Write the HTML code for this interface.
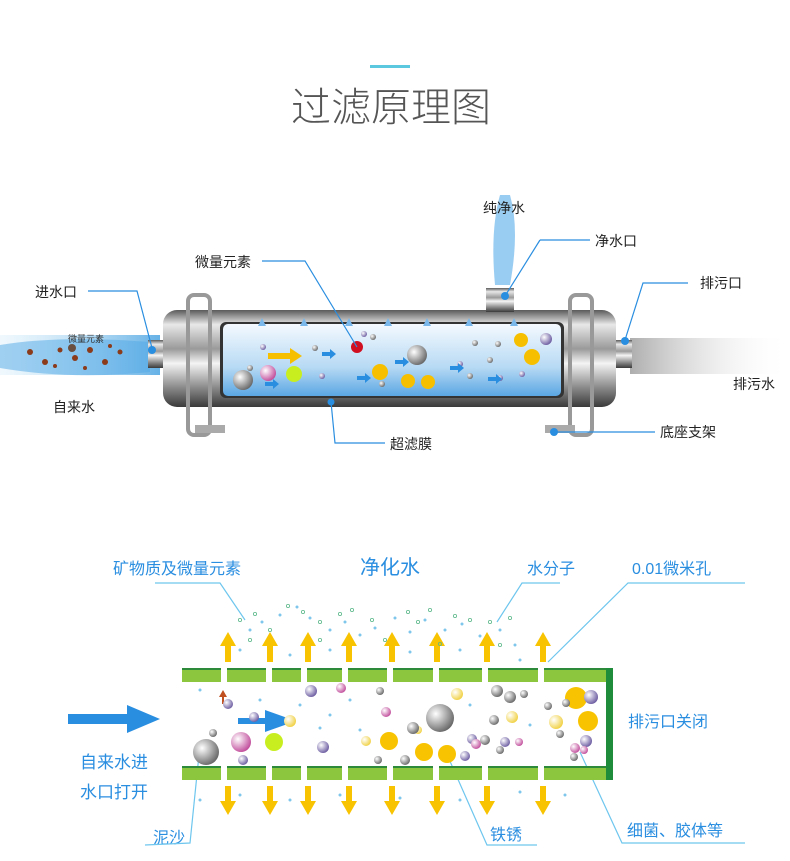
<!DOCTYPE html>
<html><head><meta charset="utf-8"><style>
html,body{margin:0;padding:0;background:#fff}
svg{display:block}
text{font-family:"Liberation Sans","Noto Sans CJK SC",sans-serif}
</style></head><body>
<svg width="790" height="861" viewBox="0 0 790 861" xmlns="http://www.w3.org/2000/svg">
<defs>
<linearGradient id="steel" x1="0" y1="0" x2="0" y2="1">
<stop offset="0" stop-color="#5a5a5a"/><stop offset="0.15" stop-color="#e8e8e8"/><stop offset="0.4" stop-color="#9a9a9a"/><stop offset="0.55" stop-color="#f4f4f4"/><stop offset="0.8" stop-color="#8a8a8a"/><stop offset="1" stop-color="#3a3a3a"/>
</linearGradient>
<linearGradient id="inner" x1="0" y1="0" x2="0" y2="1">
<stop offset="0" stop-color="#f4f9fe"/><stop offset="0.6" stop-color="#b7daf4"/><stop offset="1" stop-color="#5aa6e3"/>
</linearGradient>
<linearGradient id="water" x1="0" y1="0" x2="1" y2="0">
<stop offset="0" stop-color="#bfe3f7" stop-opacity="0.3"/><stop offset="1" stop-color="#3f9ee0"/>
</linearGradient>
<linearGradient id="grey" x1="0" y1="0" x2="1" y2="0">
<stop offset="0" stop-color="#777"/><stop offset="1" stop-color="#fff" stop-opacity="0"/>
</linearGradient>
<radialGradient id="ball" cx="0.35" cy="0.35" r="0.7"><stop offset="0" stop-color="#fff"/><stop offset="1" stop-color="#666"/></radialGradient>
<radialGradient id="pball" cx="0.35" cy="0.35" r="0.7"><stop offset="0" stop-color="#fff"/><stop offset="1" stop-color="#6a5aa0"/></radialGradient>
<radialGradient id="mball" cx="0.35" cy="0.35" r="0.7"><stop offset="0" stop-color="#fff"/><stop offset="1" stop-color="#c04a9a"/></radialGradient>
<radialGradient id="yball" cx="0.35" cy="0.35" r="0.7"><stop offset="0" stop-color="#fff"/><stop offset="1" stop-color="#f0d040"/></radialGradient>
</defs>

<!-- title -->
<rect x="370" y="65" width="40" height="3" fill="#5cc8e0"/>
<text x="391" y="121" font-size="40" fill="#555" text-anchor="middle" font-weight="300">过滤原理图</text>

<!-- top diagram -->
<rect x="0" y="335" width="160" height="40" fill="url(#water)" opacity="0.8"/>
<path d="M0 345 Q60 335 150 342 L150 372 Q70 380 0 368Z" fill="#4fa8e6" opacity="0.5"/>
<g fill="#8b3a1a"><circle cx="30" cy="352" r="3"/><circle cx="45" cy="362" r="3"/><circle cx="60" cy="350" r="2.5"/><circle cx="75" cy="358" r="3"/><circle cx="90" cy="350" r="3"/><circle cx="105" cy="362" r="3"/><circle cx="120" cy="352" r="2.5"/><circle cx="55" cy="366" r="2"/><circle cx="85" cy="368" r="2"/><circle cx="110" cy="346" r="2"/><circle cx="72" cy="348" r="4" fill="#6a5040"/></g>
<text x="68" y="342" font-size="9" fill="#333">微量元素</text>
<rect x="630" y="338" width="160" height="36" fill="url(#grey)" opacity="0.6"/>

<rect x="148" y="340" width="18" height="28" fill="url(#steel)"/>
<rect x="614" y="340" width="18" height="28" fill="url(#steel)"/>
<rect x="163" y="310" width="453" height="97" rx="14" fill="url(#steel)"/>
<rect x="486" y="288" width="28" height="24" fill="url(#steel)"/>
<rect x="188" y="295" width="22" height="140" rx="6" fill="none" stroke="#999" stroke-width="4"/>
<rect x="570" y="295" width="22" height="140" rx="6" fill="none" stroke="#999" stroke-width="4"/>
<rect x="195" y="425" width="30" height="8" fill="#aaa"/>
<rect x="545" y="425" width="30" height="8" fill="#aaa"/>
<rect x="220" y="322" width="344" height="76" rx="6" fill="#333"/>
<rect x="223" y="324" width="338" height="72" rx="5" fill="url(#inner)"/>
<path d="M500 195 Q490 230 495 285 L510 285 Q520 230 510 195Z" fill="#6fb8ec" opacity="0.7"/>
<g fill="#7ab8ec"><polygon points="262,318 258,326 266,326"/><polygon points="304,318 300,326 308,326"/><polygon points="349,318 345,326 353,326"/><polygon points="388,318 384,326 392,326"/><polygon points="427,318 423,326 431,326"/><polygon points="469,318 465,326 473,326"/><polygon points="514,318 510,326 518,326"/></g>
<circle cx="243" cy="380" r="10" fill="url(#ball)"/><circle cx="268" cy="373" r="8" fill="url(#mball)"/><circle cx="294" cy="374" r="8" fill="#c8ee20"/>
<polygon points="268,353 290,353 290,348 302,356 290,364 290,359 268,359" fill="#f6c000"/>
<circle cx="357" cy="347" r="6" fill="#d01020"/>
<circle cx="417" cy="355" r="10" fill="url(#ball)"/><circle cx="380" cy="372" r="8" fill="#f6c000"/><circle cx="408" cy="381" r="7" fill="#f6c000"/><circle cx="428" cy="382" r="7" fill="#f6c000"/>
<circle cx="521" cy="340" r="7" fill="#f6c000"/><circle cx="532" cy="357" r="8" fill="#f6c000"/><circle cx="546" cy="339" r="6" fill="url(#pball)"/>
<g fill="url(#ball)"><circle cx="373" cy="337" r="3"/><circle cx="315" cy="348" r="3"/><circle cx="475" cy="343" r="3"/><circle cx="490" cy="360" r="3"/><circle cx="498" cy="344" r="3"/><circle cx="382" cy="384" r="3"/><circle cx="470" cy="376" r="3"/><circle cx="250" cy="368" r="3"/></g>
<g fill="url(#pball)"><circle cx="263" cy="347" r="3"/><circle cx="322" cy="376" r="3"/><circle cx="364" cy="334" r="3"/><circle cx="460" cy="364" r="3"/><circle cx="500" cy="378" r="3"/><circle cx="522" cy="374" r="3"/></g>
<g fill="#2a8ee0"><rect x="322" y="352" width="8" height="4"/><polygon points="330,349 336,354 330,359"/><rect x="395" y="360" width="8" height="4"/><polygon points="403,357 409,362 403,367"/><rect x="450" y="366" width="8" height="4"/><polygon points="458,363 464,368 458,373"/><rect x="488" y="377" width="8" height="4"/><polygon points="496,374 502,379 496,384"/><rect x="357" y="376" width="8" height="4"/><polygon points="365,373 371,378 365,383"/><rect x="265" y="382" width="8" height="4"/><polygon points="273,379 279,384 273,389"/></g>

<!-- callouts top -->
<g stroke="#2a8ee0" stroke-width="1.2" fill="none">
<polyline points="88,291 137,291 152,348"/>
<polyline points="262,261 305,261 357,347"/>
<polyline points="540,240 590,240"/><line x1="540" y1="240" x2="505" y2="296"/>
<polyline points="688,283 643,283 625,340"/>
<polyline points="331,402 335,443 385,443"/>
<polyline points="555,432 655,432"/>
</g>
<g fill="#2a8ee0"><circle cx="152" cy="350" r="4"/><circle cx="505" cy="296" r="4"/><circle cx="625" cy="341" r="4"/><circle cx="331" cy="402" r="3.5"/><circle cx="554" cy="432" r="4"/></g>
<g font-size="14" fill="#222">
<text x="35" y="297">进水口</text><text x="195" y="267">微量元素</text><text x="483" y="213">纯净水</text><text x="595" y="246">净水口</text><text x="700" y="288">排污口</text><text x="53" y="412">自来水</text><text x="733" y="389">排污水</text><text x="390" y="449">超滤膜</text><text x="660" y="437">底座支架</text>
</g>

<!-- bottom diagram -->
<g font-size="16" fill="#2a8ee0">
<text x="113" y="574">矿物质及微量元素</text>
<text x="360" y="574" font-size="20">净化水</text>
<text x="527" y="574">水分子</text>
<text x="632" y="574">0.01微米孔</text>
<text x="628" y="727">排污口关闭</text>
<text x="80" y="768" font-size="17">自来水进</text>
<text x="80" y="798" font-size="17">水口打开</text>
<text x="153" y="843">泥沙</text>
<text x="490" y="840">铁锈</text>
<text x="627" y="836">细菌、胶体等</text>
</g>
<g stroke="#6ec6ee" stroke-width="1.2" fill="none">
<polyline points="155,583 220,583 245,620"/>
<polyline points="560,583 522,583 497,622"/>
<polyline points="745,583 628,583 548,662"/>
<polyline points="200,745 190,843 145,845"/>
<polyline points="445,750 487,845 537,845"/>
<polyline points="580,752 622,843 745,843"/>
</g>
<!-- bars -->
<g>
<rect x="182" y="668" width="428" height="14" fill="#8cc63f"/>
<rect x="182" y="766" width="428" height="14" fill="#8cc63f"/>
<rect x="182" y="668" width="428" height="2" fill="#2d8a3a"/>
<rect x="182" y="766" width="428" height="2" fill="#2d8a3a"/>
<rect x="606" y="668" width="7" height="112" fill="#1f8c3c"/>
<g fill="#fff"><rect x="221" y="668" width="6" height="14"/><rect x="266" y="668" width="6" height="14"/><rect x="301" y="668" width="6" height="14"/><rect x="342" y="668" width="6" height="14"/><rect x="387" y="668" width="6" height="14"/><rect x="433" y="668" width="6" height="14"/><rect x="482" y="668" width="6" height="14"/><rect x="538" y="668" width="6" height="14"/>
<rect x="221" y="766" width="6" height="14"/><rect x="266" y="766" width="6" height="14"/><rect x="301" y="766" width="6" height="14"/><rect x="342" y="766" width="6" height="14"/><rect x="387" y="766" width="6" height="14"/><rect x="433" y="766" width="6" height="14"/><rect x="482" y="766" width="6" height="14"/><rect x="538" y="766" width="6" height="14"/></g>
</g>
<g fill="#f8c300">
<g id="up"><polygon points="228,632 220,646 225,646 225,662 231,662 231,646 236,646"/></g>
<use href="#up" x="42"/><use href="#up" x="80"/><use href="#up" x="121"/><use href="#up" x="164"/><use href="#up" x="209"/><use href="#up" x="259"/><use href="#up" x="315"/>
<g id="dn"><polygon points="228,815 220,801 225,801 225,786 231,786 231,801 236,801"/></g>
<use href="#dn" x="42"/><use href="#dn" x="80"/><use href="#dn" x="121"/><use href="#dn" x="164"/><use href="#dn" x="209"/><use href="#dn" x="259"/><use href="#dn" x="315"/>
</g>
<!-- arrows blue -->
<polygon points="68,714 127,714 127,705 160,719 127,733 127,724 68,724" fill="#2a8ee0"/>
<polygon points="238,718 265,718 265,710 296,721 265,732 265,724 238,724" fill="#2a8ee0"/>
<polygon points="223,690 219,697 222,697 222,704 224,704 224,697 227,697" fill="#c05020"/>
<!-- particles -->
<circle cx="206" cy="752" r="13" fill="url(#ball)"/>
<circle cx="241" cy="742" r="10" fill="url(#mball)"/>
<circle cx="274" cy="742" r="9" fill="#c8ee20"/>
<circle cx="440" cy="718" r="14" fill="url(#ball)"/>
<g fill="#f8c300"><circle cx="389" cy="741" r="9"/><circle cx="424" cy="752" r="9"/><circle cx="447" cy="754" r="9"/><circle cx="576" cy="698" r="11"/><circle cx="588" cy="721" r="10"/></g>
<g fill="url(#yball)"><circle cx="290" cy="721" r="6"/><circle cx="457" cy="694" r="6"/><circle cx="512" cy="717" r="6"/><circle cx="556" cy="722" r="7"/><circle cx="366" cy="741" r="5"/><circle cx="418" cy="730" r="4"/></g>
<g fill="url(#ball)"><circle cx="213" cy="733" r="4"/><circle cx="380" cy="691" r="4"/><circle cx="413" cy="728" r="6"/><circle cx="497" cy="691" r="6"/><circle cx="510" cy="697" r="6"/><circle cx="494" cy="720" r="5"/><circle cx="548" cy="706" r="4"/><circle cx="566" cy="703" r="4"/><circle cx="378" cy="760" r="4"/><circle cx="405" cy="760" r="5"/><circle cx="485" cy="740" r="5"/><circle cx="500" cy="750" r="4"/><circle cx="560" cy="734" r="4"/><circle cx="574" cy="757" r="4"/><circle cx="524" cy="694" r="4"/></g>
<g fill="url(#pball)"><circle cx="228" cy="704" r="5"/><circle cx="254" cy="717" r="5"/><circle cx="311" cy="691" r="6"/><circle cx="323" cy="747" r="6"/><circle cx="472" cy="739" r="5"/><circle cx="465" cy="756" r="5"/><circle cx="505" cy="742" r="5"/><circle cx="591" cy="697" r="7"/><circle cx="586" cy="741" r="6"/><circle cx="243" cy="760" r="5"/></g>
<g fill="url(#mball)"><circle cx="341" cy="688" r="5"/><circle cx="386" cy="712" r="5"/><circle cx="476" cy="744" r="5"/><circle cx="519" cy="742" r="4"/><circle cx="575" cy="748" r="5"/><circle cx="584" cy="750" r="4"/></g>
<!-- water molecule dots -->
<g fill="#7ec6ec">
<circle cx="250" cy="630" r="1.5"/><circle cx="262" cy="622" r="1.5"/><circle cx="280" cy="615" r="1.5"/><circle cx="297" cy="607" r="1.5"/><circle cx="310" cy="618" r="1.5"/><circle cx="330" cy="630" r="1.5"/><circle cx="345" cy="622" r="1.5"/><circle cx="360" cy="635" r="1.5"/><circle cx="375" cy="628" r="1.5"/><circle cx="395" cy="618" r="1.5"/><circle cx="410" cy="632" r="1.5"/><circle cx="425" cy="620" r="1.5"/><circle cx="445" cy="630" r="1.5"/><circle cx="462" cy="624" r="1.5"/><circle cx="480" cy="636" r="1.5"/><circle cx="500" cy="630" r="1.5"/><circle cx="515" cy="645" r="1.5"/><circle cx="240" cy="650" r="1.5"/><circle cx="290" cy="655" r="1.5"/><circle cx="330" cy="650" r="1.5"/><circle cx="410" cy="652" r="1.5"/><circle cx="460" cy="650" r="1.5"/><circle cx="520" cy="660" r="1.5"/><circle cx="200" cy="690" r="1.5"/><circle cx="260" cy="700" r="1.5"/><circle cx="300" cy="705" r="1.5"/><circle cx="330" cy="715" r="1.5"/><circle cx="350" cy="700" r="1.5"/><circle cx="360" cy="730" r="1.5"/><circle cx="320" cy="728" r="1.5"/><circle cx="470" cy="705" r="1.5"/><circle cx="530" cy="725" r="1.5"/><circle cx="200" cy="800" r="1.5"/><circle cx="240" cy="795" r="1.5"/><circle cx="290" cy="800" r="1.5"/><circle cx="340" cy="795" r="1.5"/><circle cx="400" cy="798" r="1.5"/><circle cx="460" cy="800" r="1.5"/><circle cx="520" cy="792" r="1.5"/><circle cx="565" cy="795" r="1.5"/>
</g>
<g fill="none" stroke="#5cb88a" stroke-width="0.8">
<circle cx="240" cy="620" r="1.6"/><circle cx="255" cy="614" r="1.6"/><circle cx="270" cy="630" r="1.6"/><circle cx="288" cy="606" r="1.6"/><circle cx="303" cy="612" r="1.6"/><circle cx="320" cy="622" r="1.6"/><circle cx="340" cy="614" r="1.6"/><circle cx="352" cy="610" r="1.6"/><circle cx="372" cy="620" r="1.6"/><circle cx="408" cy="612" r="1.6"/><circle cx="418" cy="622" r="1.6"/><circle cx="430" cy="610" r="1.6"/><circle cx="455" cy="616" r="1.6"/><circle cx="470" cy="620" r="1.6"/><circle cx="490" cy="622" r="1.6"/><circle cx="510" cy="618" r="1.6"/><circle cx="250" cy="640" r="1.6"/><circle cx="320" cy="640" r="1.6"/><circle cx="385" cy="640" r="1.6"/><circle cx="440" cy="644" r="1.6"/><circle cx="500" cy="645" r="1.6"/>
</g>
</svg>
</body></html>
